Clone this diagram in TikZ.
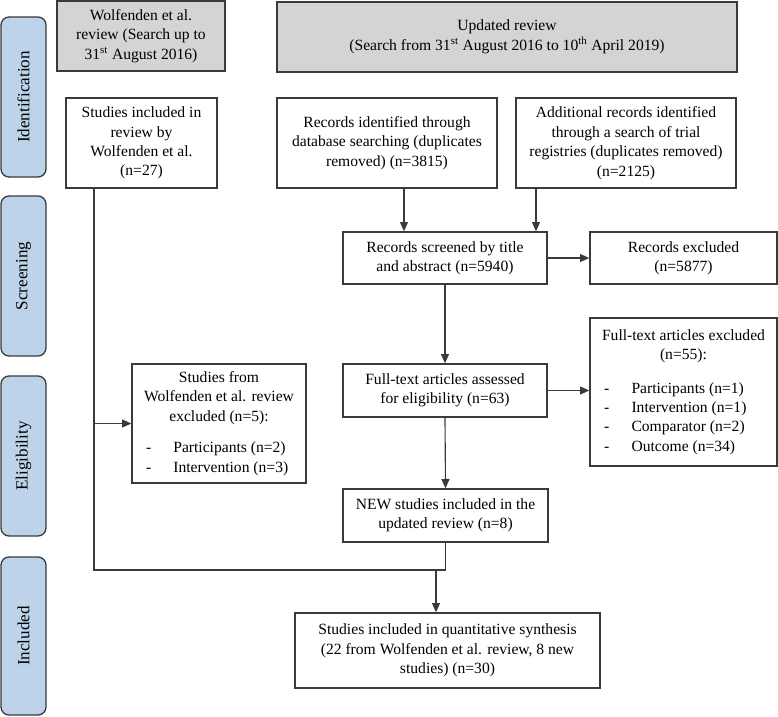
\documentclass[tikz,border=0pt]{standalone}
\usepackage{fontspec}
\setmainfont{Liberation Serif}
\usetikzlibrary{arrows.meta,calc}
\definecolor{linec}{HTML}{3A3A3A}
\definecolor{grayc}{HTML}{D4D4D4}
\definecolor{lanec}{HTML}{BDD3EA}
\newcommand\myfs{\fontsize{11.7}{14.6}\selectfont}
\newcommand\lst[2]{\makebox[#1][l]{\hspace*{10pt}\makebox[20.5pt][l]{-}#2}}
\begin{document}
\begin{tikzpicture}[x=0.75pt,y=-0.75pt,
  sz/.style 2 args={minimum width=#1*0.75pt, minimum height=#2*0.75pt},
  box/.style={draw=linec, line width=1pt, fill=white, inner sep=0pt, align=center, font=\myfs},
  graybox/.style={box, fill=grayc},
  lane/.style={draw=linec, line width=1pt, fill=lanec, rounded corners=6pt, inner sep=0pt, rotate=90, font=\fontsize{12.8}{15}\selectfont},
  conn/.style={draw=linec, line width=0.85pt},
  arr/.style={conn, -{Triangle[length=7pt,width=6pt]}}]
\useasboundingbox (0,0) rectangle (778,717);
\fill[white] (0,0) rectangle (778,717);
% lanes
\node[lane, sz={160}{45}] (lid) at (23.5,97) {Identification};
\node[lane, sz={160}{45}] (lsc) at (23.5,276) {Screening};
\node[lane, sz={160}{45}] (lel) at (23.5,456) {Eligibility};
\node[lane, sz={158}{45}] (lin) at (23.5,636) {Included};
% header boxes
\node[graybox, sz={168}{70}] (wolf) at (141,36) {Wolfenden et al.\\review (Search up to\\31\textsuperscript{st} August 2016)};
\node[graybox, sz={460}{70}] (upd) at (507,37) {Updated review\\(Search from 31\textsuperscript{st} August 2016 to 10\textsuperscript{th} April 2019)};
% identification
\node[box, sz={151}{90}] (stud) at (141.5,143) {Studies included in\\review by\\Wolfenden et al.\\(n=27)};
\node[box, sz={220}{90}] (rid) at (387,143) {Records identified through\\database searching (duplicates\\removed) (n=3815)};
\node[box, sz={220}{90}] (add) at (626,143) {Additional records identified\\through a search of trial\\registries (duplicates removed)\\(n=2125)};
% screening
\node[box, sz={204}{52}] (rsc) at (445,258) {Records screened by title\\and abstract (n=5940)};
\node[box, sz={187}{52}] (rex) at (683.5,258) {Records excluded\\(n=5877)};
% eligibility
\node[box, sz={204}{53}] (fta) at (445,390.5) {Full-text articles assessed\\for eligibility (n=63)};
\node[box, sz={187}{148}] (fex) at (683.5,392) {Full-text articles excluded\\(n=55):\\[10.5pt]
  \lst{139pt}{Participants (n=1)}\\
  \lst{139pt}{Intervention (n=1)}\\
  \lst{139pt}{Comparator (n=2)}\\
  \lst{139pt}{Outcome (n=34)}};
\node[box, sz={174}{119}] (wexc) at (219,423.5) {Studies from\\Wolfenden et al. review\\excluded (n=5):\\[9pt]
  \lst{129.5pt}{Participants (n=2)}\\
  \lst{129.5pt}{Intervention (n=3)}};
\node[box, sz={205}{53}] (new) at (445.5,515.5) {NEW studies included in the\\updated review (n=8)};
% included
\node[box, sz={305}{75}] (fin) at (447.5,650.5) {Studies included in quantitative synthesis\\(22 from Wolfenden et al. review, 8 new\\studies) (n=30)};
% connectors
\coordinate (x1) at (404,0);
\coordinate (x2) at (536,0);
\coordinate (j) at (94,570);
\coordinate (k) at (436,570);
\draw[arr] (rid.south -| x1) -- (rsc.north -| x1);
\draw[arr] (add.south -| x2) -- (rsc.north -| x2);
\draw[arr] (rsc.east) -- (rex.west);
\draw[arr] (rsc.south) -- (fta.north);
\draw[arr] (fta.east) -- (fta.east -| fex.west);
\draw[arr] (fta.south) -- (new.north);
\draw[conn] (stud.south -| j) -- (j) -- (new.south |- j) -- (new.south);
\draw[arr] (j |- wexc.west) -- (wexc.west);
\draw[arr] (k) -- (fin.north -| k);
\end{tikzpicture}
\end{document}
